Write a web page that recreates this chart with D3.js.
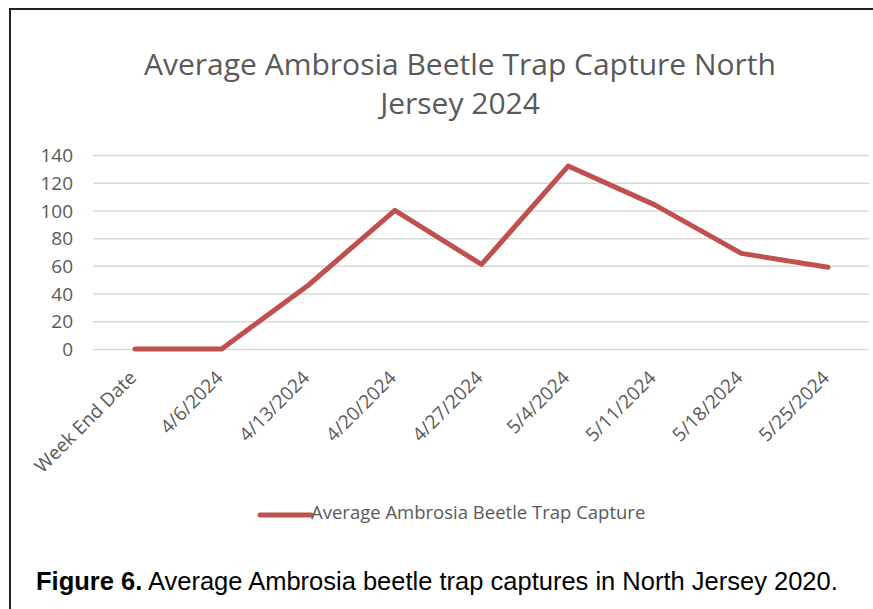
<!DOCTYPE html>
<html>
<head>
<meta charset="utf-8">
<script src="https://cdn.jsdelivr.net/npm/d3@7"></script>
<style>
  html, body { margin: 0; padding: 0; background: #fff; }
  svg { display: block; }
</style>
</head>
<body>
<div id="chart"></div>
<script>
const categories = [
  "Week End Date", "4/6/2024", "4/13/2024", "4/20/2024", "4/27/2024",
  "5/4/2024", "5/11/2024", "5/18/2024", "5/25/2024",
];
const captures = [0, 0, 46, 100, 61, 132, 104, 69, 59];
const yTicks = [0, 20, 40, 60, 80, 100, 120, 140];
const titleLines = ["Average Ambrosia Beetle Trap Capture North", "Jersey 2024"];
const seriesName = "Average Ambrosia Beetle Trap Capture";

const W = 873, H = 609;
const font = "'Open Sans', 'Noto Sans', sans-serif";
const grey = "#595959";
const red = "#c0504d";

const svg = d3.select("#chart").append("svg")
  .attr("width", W)
  .attr("height", H);

// frame of the chart box (left + top edges only visible)
svg.append("path")
  .attr("d", `M10,${H} L10,9 L${W},9`)
  .attr("fill", "none")
  .attr("stroke", "#222")
  .attr("stroke-width", 2);

// title
svg.append("g").selectAll("text")
  .data(titleLines)
  .enter()
  .append("text")
  .attr("x", 460)
  .attr("y", (d, i) => 75 + i * 39)
  .attr("text-anchor", "middle")
  .style("font-family", font)
  .style("font-size", "30px")
  .style("fill", grey)
  .text(d => d);

const x = d3.scalePoint().domain(categories).range([135, 828]);
const y = d3.scaleLinear().domain([0, 140]).range([349, 155]);

// gridlines
svg.append("g")
  .attr("transform", "translate(93,0)")
  .call(d3.axisLeft(y).tickValues(yTicks).tickSize(-776).tickFormat(""))
  .call(g => g.select(".domain").remove())
  .selectAll("line")
  .attr("stroke", "#d9d9d9")
  .attr("stroke-width", 1.5);

// y labels
svg.append("g")
  .attr("transform", "translate(73,0)")
  .call(d3.axisLeft(y).tickValues(yTicks).tickSize(0).tickPadding(0))
  .call(g => g.select(".domain").remove())
  .selectAll("text")
  .style("font-family", font)
  .style("font-size", "19px")
  .style("fill", grey)
  .attr("dy", "0.35em");

// x labels
svg.append("g")
  .attr("transform", "translate(0,349)")
  .call(d3.axisBottom(x).tickSize(0).tickPadding(0))
  .call(g => g.select(".domain").remove())
  .selectAll("text")
  .style("font-family", font)
  .style("font-size", "19px")
  .style("fill", grey)
  .style("text-anchor", "end")
  .attr("dy", 0)
  .attr("transform", "translate(2,30) rotate(-45)");

// series line
const line = d3.line()
  .x((d, i) => x(categories[i]))
  .y(d => y(d));

svg.append("path")
  .datum(captures)
  .attr("d", line)
  .attr("fill", "none")
  .attr("stroke", red)
  .attr("stroke-width", 5)
  .attr("stroke-linejoin", "round")
  .attr("stroke-linecap", "round");

// legend
svg.append("line")
  .attr("x1", 260).attr("x2", 311)
  .attr("y1", 515).attr("y2", 515)
  .attr("stroke", red)
  .attr("stroke-width", 5)
  .attr("stroke-linecap", "round");
svg.append("text")
  .attr("x", 311)
  .attr("y", 519)
  .style("font-family", font)
  .style("font-size", "18.5px")
  .style("fill", grey)
  .text(seriesName);

// figure caption
const cap = svg.append("text")
  .attr("x", 36)
  .attr("y", 590)
  .style("font-family", "'Liberation Sans', Arial, sans-serif")
  .style("font-size", "25.5px")
  .style("fill", "#000");
cap.append("tspan").style("font-weight", "bold").text("Figure 6.");
cap.append("tspan").text(" Average Ambrosia beetle trap captures in North Jersey 2020.");
</script>
</body>
</html>
